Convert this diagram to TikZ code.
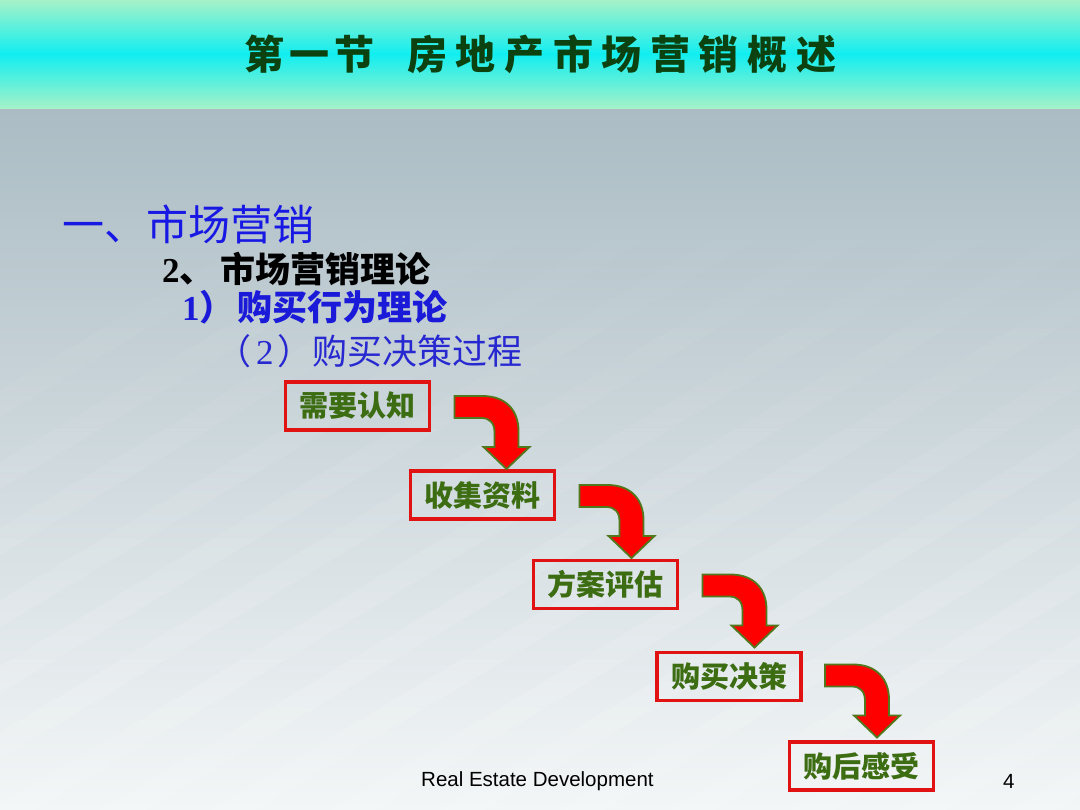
\documentclass[tikz,border=0pt]{standalone}
\usepackage{fontspec}
\setmainfont{Liberation Serif}
\newfontfamily\cjk{Noto Sans CJK SC}
\newfontfamily\arial{Liberation Sans}
\usetikzlibrary{calc}
\definecolor{mint}{HTML}{A6F2C8}
\definecolor{cyanmid}{HTML}{12EEF0}
\definecolor{bgtop}{HTML}{ABBCC4}
\definecolor{bgbot}{HTML}{F3F6F7}
\definecolor{titlegreen}{HTML}{0B420F}
\definecolor{boxred}{HTML}{E01212}
\definecolor{boxgreen}{HTML}{3D6D12}
\definecolor{arrowred}{HTML}{FF0000}
\definecolor{arrowedge}{HTML}{52781E}
\definecolor{blueA}{HTML}{1818E4}
\definecolor{blueB}{HTML}{1A1AD8}
\definecolor{blueC}{HTML}{2828D0}
\tikzset{
  stepbox/.style={draw=boxred, line width=3.5pt, minimum width=144pt, minimum height=48pt,
    inner sep=0pt, text=boxgreen, font=\cjk\bfseries\fontsize{29}{29}\selectfont},
  bendfill/.style={fill=arrowred, draw=arrowedge, line width=1.8pt, line join=miter},
  bentarrow/.pic={\path[bendfill] (0,-11) -- (28,-11) .. controls (52,-11) and (64,4) .. (64,24)
     -- (64,40) -- (75,40) -- (52,62) -- (29,40) -- (40,40) -- (40,25)
     .. controls (40,16) and (35,11) .. (27,11) -- (0,11) -- cycle;},
  linetext/.style={anchor=west, inner sep=0pt},
  stripe/.style={fill=white}
}
\begin{document}
\begin{tikzpicture}[x=1pt,y=-1pt]
\useasboundingbox (0,0) rectangle (1080,810);
% background
\shade[top color=bgtop, bottom color=bgbot] (0,108) rectangle (1080,810);
\foreach \ya/\yb/\op in {660/810/0.13, 540/660/0.10, 430/540/0.07, 330/430/0.045, 240/330/0.025} {
  \begin{scope}
    \clip (0,\ya) rectangle (1080,\yb);
    \foreach \s in {-700,-580,-470,-350,-240,-130,-10,100,210,330,440,560,670,790,900,1010} {
      \fill[stripe, opacity=\op] (\s,810) -- (\s+45,810) -- (\s+1045,210) -- (\s+1000,210) -- cycle;
    }
  \end{scope}
}
% title band
\shade[top color=mint, bottom color=cyanmid] (0,0) rectangle (1080,54);
\shade[top color=cyanmid, bottom color=mint] (0,54) rectangle (1080,108.5);
\node[anchor=west, inner sep=0pt, text=titlegreen, font=\cjk\bfseries\fontsize{40}{40}\selectfont] (title) at (244,54)
  {第\hspace{5pt}一\hspace{5pt}节\hspace{33pt}房\hspace{8.6pt}地\hspace{8.6pt}产\hspace{8.6pt}市\hspace{8.6pt}场\hspace{8.6pt}营\hspace{8.6pt}销\hspace{8.6pt}概\hspace{8.6pt}述};
% headings
\node[linetext, text=blueA, font=\cjk\fontsize{42}{42}\selectfont] (h1) at (62,224) {一、市场营销};
\node[linetext, text=black, font=\fontsize{35}{35}\selectfont] (h2) at (162,269) {\textbf{2}{\cjk\bfseries 、\hspace{6pt}市场营销理论}};
\node[linetext, text=blueB, font=\fontsize{35}{35}\selectfont] (h3) at (182,307) {\textbf{1}{\cjk\bfseries ）\hspace{3pt}购买行为理论}};
\node[linetext, text=blueC, font=\fontsize{35}{35}\selectfont] (h4) at (216,351) {{\cjk （}\hspace{5pt}2\hspace{4pt}{\cjk ）购买决策过程}};
% steps
\node[stepbox] (b1) at (357.5,406) {需要认知};
\node[stepbox] (b2) at (482.5,495) {收集资料};
\node[stepbox] (b3) at (605.5,584.5) {方案评估};
\node[stepbox] (b4) at (729,676.5) {购买决策};
\node[stepbox] (b5) at (861.5,766) {购后感受};
% bent arrows from each step to the next
\pic (a1) at ($(b1.center)+(97,1)$) {bentarrow};
\pic (a2) at ($(b2.center)+(97,1)$) {bentarrow};
\pic (a3) at ($(b3.center)+(97,1)$) {bentarrow};
\pic (a4) at ($(b4.center)+(96,-1)$) {bentarrow};
% footer
\node[linetext, font=\arial\fontsize{20.5}{20.5}\selectfont] (foot) at (421,781) {Real Estate Development};
\node[linetext, font=\arial\fontsize{20.5}{20.5}\selectfont] (page) at (1003,781) {4};
\end{tikzpicture}
\end{document}
